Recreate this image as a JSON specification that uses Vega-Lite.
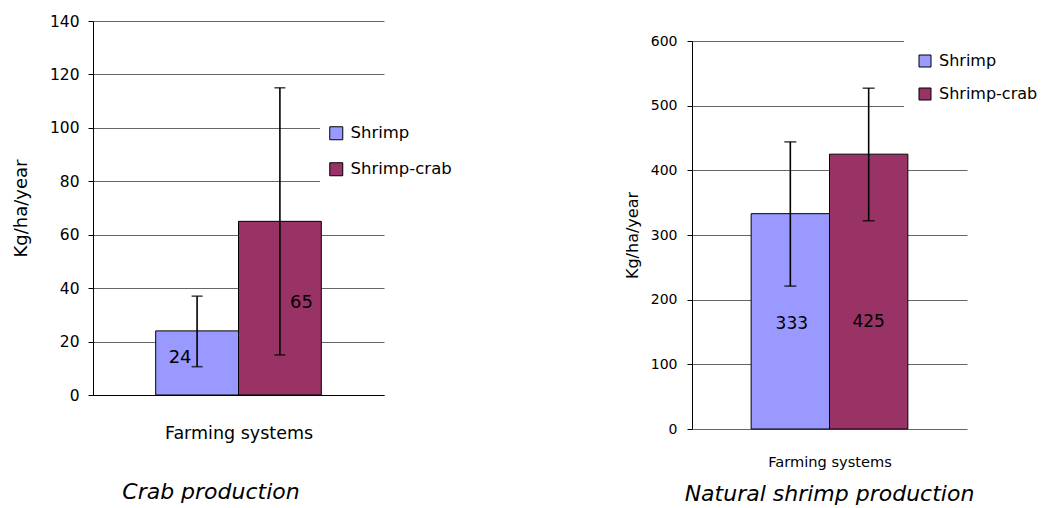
{
  "$schema": "https://vega.github.io/schema/vega-lite/v6.json",
  "padding": {"left": 12, "top": 14, "right": 0, "bottom": 0},
  "background": "white",
  "datasets": {
    "crab": [
      {"system": "Shrimp", "value": 24, "lo": 10.6, "hi": 37},
      {"system": "Shrimp-crab", "value": 65, "lo": 15, "hi": 115}
    ],
    "natural": [
      {"system": "Shrimp", "value": 333, "lo": 221, "hi": 444},
      {"system": "Shrimp-crab", "value": 425, "lo": 322, "hi": 527}
    ]
  },
  "hconcat": [
    {
      "width": 291,
      "height": 374,
      "data": {"name": "crab"},
      "title": {"text": "Crab production", "orient": "bottom", "frame": "group", "offset": 40, "fontSize": 22, "fontStyle": "italic", "fontWeight": "normal", "dx": -27.5, "anchor": "middle", "color": "black", "baseline": "top"},
      "encoding": {
        "x": {"field": "system", "type": "nominal", "sort": ["Shrimp", "Shrimp-crab"],
          "scale": {"paddingInner": 0, "paddingOuter": 0.757},
          "axis": {"labels": false, "ticks": false, "domain": true, "title": "Farming systems", "titleFontSize": 17.5, "titleY": 38.5, "titleBaseline": "middle"}}
      },
      "layer": [
        {
          "mark": {"type": "bar", "stroke": "black", "strokeWidth": 1},
          "encoding": {
            "y": {"field": "value", "type": "quantitative", "scale": {"domain": [0, 140], "nice": false},
              "axis": {"values": [0, 20, 40, 60, 80, 100, 120, 140], "grid": true, "tickSize": 5, "labelFontSize": 15.5, "labelPadding": 9, "title": "Kg/ha/year", "titleFontSize": 18, "titleX": -71.5, "titleBaseline": "middle"}},
            "color": {"field": "system", "type": "nominal",
              "scale": {"domain": ["Shrimp", "Shrimp-crab"], "range": ["#9999FF", "#993366"]},
              "legend": {"orient": "none", "legendX": 227, "legendY": 96, "title": null, "symbolType": "square", "symbolSize": 169, "symbolStrokeColor": "black", "symbolStrokeWidth": 1, "labelFontSize": 16.5, "labelOffset": 6, "rowPadding": 18, "padding": 8, "fillColor": "white", "labelColor": "black"}}
          }
        },
        {
          "mark": {"type": "rule", "color": "black", "strokeWidth": 1.6},
          "encoding": {"y": {"field": "lo", "type": "quantitative"}, "y2": {"field": "hi"}}
        },
        {
          "mark": {"type": "tick", "orient": "horizontal", "size": 11, "thickness": 1.6, "color": "black"},
          "encoding": {"y": {"field": "lo", "type": "quantitative"}}
        },
        {
          "mark": {"type": "tick", "orient": "horizontal", "size": 11, "thickness": 1.6, "color": "black"},
          "encoding": {"y": {"field": "hi", "type": "quantitative"}}
        },
        {
          "transform": [{"filter": "datum.system == 'Shrimp'"}],
          "mark": {"type": "text", "dx": -17, "fontSize": 18, "baseline": "middle", "align": "center", "color": "black"},
          "encoding": {"y": {"datum": 14}, "text": {"field": "value", "type": "quantitative"}}
        },
        {
          "transform": [{"filter": "datum.system == 'Shrimp-crab'"}],
          "mark": {"type": "text", "dx": 21.5, "fontSize": 18, "baseline": "middle", "align": "center", "color": "black"},
          "encoding": {"y": {"datum": 34.3}, "text": {"field": "value", "type": "quantitative"}}
        }
      ]
    },
    {
      "width": 275,
      "height": 408,
      "data": {"name": "natural"},
      "title": {"text": "Natural shrimp production", "orient": "bottom", "frame": "group", "offset": 15, "fontSize": 22, "fontStyle": "italic", "fontWeight": "normal", "anchor": "middle", "color": "black", "baseline": "top"},
      "encoding": {
        "x": {"field": "system", "type": "nominal", "sort": ["Shrimp", "Shrimp-crab"],
          "scale": {"paddingInner": 0, "paddingOuter": 0.755},
          "axis": {"labels": false, "ticks": false, "domain": false, "title": "Farming systems", "titleFontSize": 14.6, "titleY": 33.5, "titleBaseline": "middle"}}
      },
      "layer": [
        {
          "mark": {"type": "bar", "stroke": "black", "strokeWidth": 1},
          "encoding": {
            "y": {"field": "value", "type": "quantitative", "scale": {"domain": [0, 600], "nice": false, "range": [408, 20]},
              "axis": {"values": [0, 100, 200, 300, 400, 500, 600], "grid": true, "tickSize": 5, "labelFontSize": 14, "labelPadding": 10, "title": "Kg/ha/year", "titleFontSize": 16, "titleX": -60, "titleBaseline": "middle"}},
            "color": {"field": "system", "type": "nominal",
              "scale": {"domain": ["Shrimp", "Shrimp-crab"], "range": ["#9999FF", "#993366"]},
              "legend": {"orient": "none", "legendX": 212, "legendY": 19, "title": null, "symbolType": "square", "symbolSize": 144, "symbolStrokeColor": "black", "symbolStrokeWidth": 1, "labelFontSize": 16, "labelOffset": 6, "rowPadding": 17, "padding": 13, "fillColor": "white", "labelColor": "black"}}
          }
        },
        {
          "mark": {"type": "rule", "color": "black", "strokeWidth": 1.6},
          "encoding": {"y": {"field": "lo", "type": "quantitative"}, "y2": {"field": "hi"}}
        },
        {
          "mark": {"type": "tick", "orient": "horizontal", "size": 12, "thickness": 1.6, "color": "black"},
          "encoding": {"y": {"field": "lo", "type": "quantitative"}}
        },
        {
          "mark": {"type": "tick", "orient": "horizontal", "size": 12, "thickness": 1.6, "color": "black"},
          "encoding": {"y": {"field": "hi", "type": "quantitative"}}
        },
        {
          "transform": [{"filter": "datum.system == 'Shrimp'"}],
          "mark": {"type": "text", "dx": 1.5, "fontSize": 17, "baseline": "middle", "align": "center", "color": "black"},
          "encoding": {"y": {"datum": 163}, "text": {"field": "value", "type": "quantitative"}}
        },
        {
          "transform": [{"filter": "datum.system == 'Shrimp-crab'"}],
          "mark": {"type": "text", "dx": 0, "fontSize": 17, "baseline": "middle", "align": "center", "color": "black"},
          "encoding": {"y": {"datum": 166}, "text": {"field": "value", "type": "quantitative"}}
        }
      ]
    }
  ],
  "spacing": 308,
  "bounds": "flush",
  "resolve": {"scale": {"color": "independent"}, "legend": {"color": "independent"}},
  "config": {
    "font": "DejaVu Sans",
    "view": {"stroke": null},
    "axis": {"domainColor": "black", "tickColor": "black", "labelColor": "black", "titleColor": "black", "titleFontWeight": "normal", "gridColor": "#666", "domainWidth": 1, "gridWidth": 1}
  }
}
